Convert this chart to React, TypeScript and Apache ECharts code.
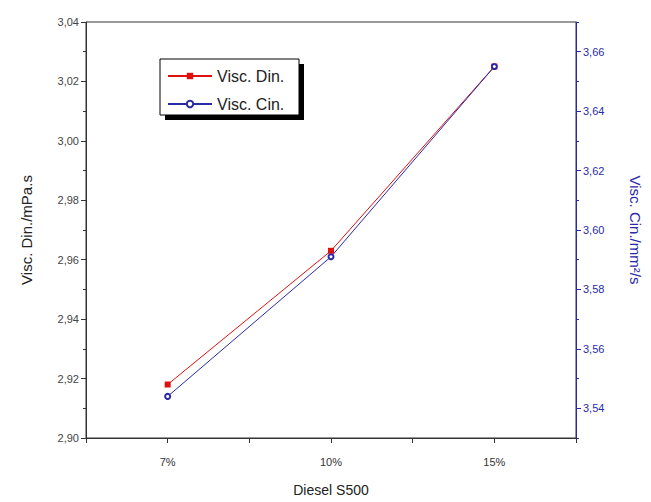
import React, { useEffect, useRef } from "react";
import * as echarts from "echarts";

const concentrations = ["7%", "10%", "15%"];
const viscDin = [2.918, 2.963, 3.025];
const viscCin = [3.544, 3.591, 3.655];
const rightMajorTicks = [3.54, 3.56, 3.58, 3.6, 3.62, 3.64, 3.66];
const rightMinorTicks = [3.53, 3.55, 3.57, 3.59, 3.61, 3.63, 3.65, 3.67];

const RED = "#e01010";
const BLUE = "#2a2aa8";
const FONT = "Liberation Sans, Arial, sans-serif";

// slots: blank, 7%, blank, 10%, blank, 15%, blank
const xSlots: string[] = [""];
concentrations.forEach((c, i) => {
  xSlots.push(c);
  xSlots.push(" ".repeat(i + 1));
});

const comma = (v: number) => v.toFixed(2).replace(".", ",");

export default function App() {
  const ref = useRef<HTMLDivElement>(null);
  useEffect(() => {
    if (!ref.current) return;
    const chart = echarts.init(ref.current, null, { renderer: "svg" });
    chart.setOption({
      animation: false,
      backgroundColor: "#ffffff",
      grid: {
        left: 86,
        right: 71,
        top: 22,
        bottom: 60,
        show: true,
        borderColor: "#333",
        borderWidth: 1,
      },
      graphic: [
        { type: "rect", z: 1, shape: { x: 165, y: 64, width: 139, height: 56 }, style: { fill: "#000" } },
        { type: "rect", z: 1, shape: { x: 160, y: 59, width: 139, height: 56 }, style: { fill: "#fff", stroke: "#000", lineWidth: 1 } },
      ],
      legend: {
        orient: "vertical",
        left: 162,
        top: 63,
        z: 5,
        itemWidth: 44,
        itemHeight: 8,
        itemGap: 12,
        textStyle: { fontFamily: FONT, fontSize: 16, color: "#222" },
        data: ["Visc. Din.", "Visc. Cin."],
      },
      xAxis: {
        type: "category",
        data: xSlots,
        boundaryGap: false,
        axisLine: { lineStyle: { color: "#333", width: 1 } },
        axisTick: { show: true, interval: 0, length: 5, lineStyle: { color: "#333" } },
        axisLabel: { interval: 0, fontFamily: FONT, fontSize: 11, color: "#333", margin: 18 },
        splitLine: { show: false },
        name: "Diesel S500",
        nameLocation: "middle",
        nameGap: 45,
        nameTextStyle: { fontFamily: FONT, fontSize: 14, color: "#222" },
      },
      yAxis: [
        {
          type: "value",
          min: 2.9,
          max: 3.04,
          interval: 0.02,
          position: "left",
          axisLine: { show: true, lineStyle: { color: "#333", width: 1 } },
          axisTick: { show: true, length: 5, lineStyle: { color: "#333" } },
          minorTick: { show: true, splitNumber: 2, length: 3, lineStyle: { color: "#333" } },
          splitLine: { show: false },
          minorSplitLine: { show: false },
          axisLabel: { formatter: comma, fontFamily: FONT, fontSize: 11, color: "#444", margin: 7 },
          name: "Visc. Din./mPa.s",
          nameLocation: "middle",
          nameRotate: 90,
          nameGap: 52,
          nameTextStyle: { fontFamily: FONT, fontSize: 15, color: "#222" },
        },
        {
          type: "value",
          min: 3.53,
          max: 3.67,
          position: "right",
          axisLine: { show: true, onZero: false, lineStyle: { color: BLUE, width: 1 } },
          axisTick: { show: true, length: 5, customValues: rightMajorTicks, lineStyle: { color: BLUE } },
          splitLine: { show: false },
          axisLabel: {
            customValues: rightMajorTicks,
            formatter: comma,
            fontFamily: FONT,
            fontSize: 11,
            color: BLUE,
            margin: 7,
          },
          name: "Visc. Cin./mm²/s",
          nameLocation: "middle",
          nameRotate: -90,
          nameGap: 52,
          nameTextStyle: { fontFamily: FONT, fontSize: 15, color: BLUE },
        },
        {
          type: "value",
          min: 3.53,
          max: 3.67,
          position: "right",
          axisLine: { show: false },
          axisTick: { show: true, length: 3, customValues: rightMinorTicks, lineStyle: { color: BLUE } },
          axisLabel: { show: false },
          splitLine: { show: false },
        },
      ],
      series: [
        {
          name: "Visc. Din.",
          type: "line",
          yAxisIndex: 0,
          data: concentrations.map((c, i) => [c, viscDin[i]]),
          symbol: "rect",
          symbolSize: 6,
          itemStyle: { color: RED },
          lineStyle: { color: RED, width: 1 },
        },
        {
          name: "Visc. Cin.",
          type: "line",
          yAxisIndex: 1,
          data: concentrations.map((c, i) => [c, viscCin[i]]),
          symbol: "emptyCircle",
          symbolSize: 5,
          itemStyle: { color: BLUE, borderColor: BLUE, borderWidth: 1.2 },
          lineStyle: { color: BLUE, width: 1 },
        },
      ],
    });
    return () => chart.dispose();
  }, []);
  return <div ref={ref} style={{ width: 651, height: 502, marginTop: -8, marginLeft: -8 }} />;
}
